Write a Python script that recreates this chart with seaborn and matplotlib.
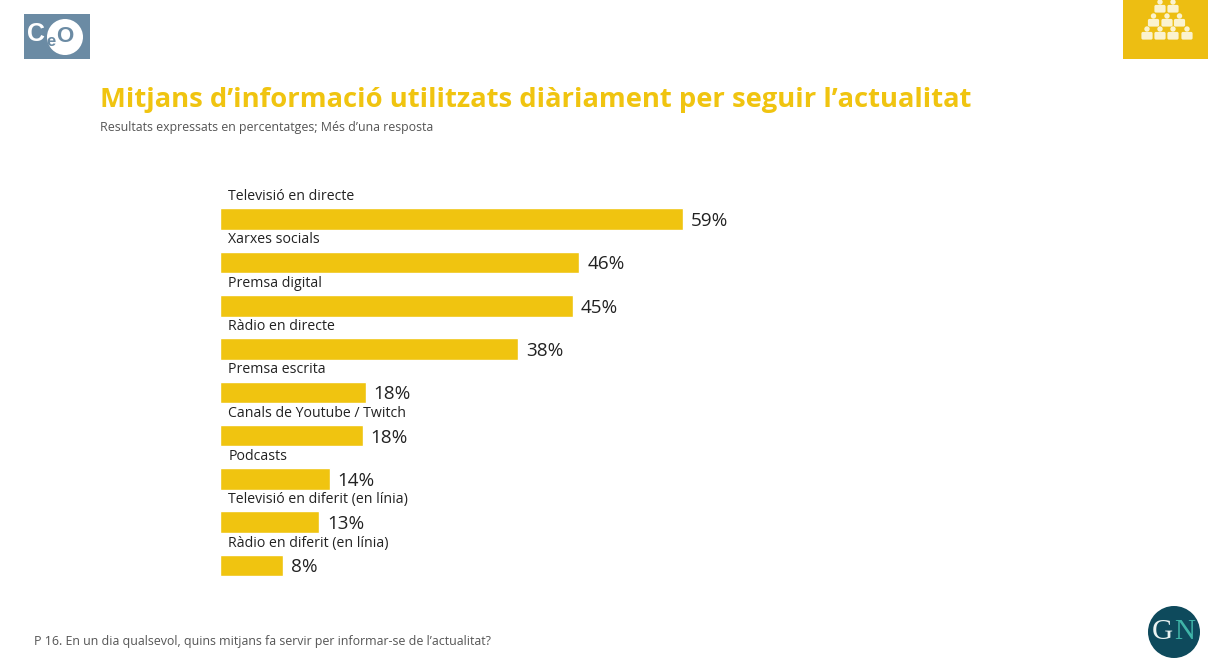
import matplotlib
matplotlib.use("Agg")
import matplotlib.pyplot as plt
from matplotlib.patches import Rectangle, Circle, FancyBboxPatch
import pandas as pd
import seaborn as sns

categories = ["Televisió en directe", "Xarxes socials", "Premsa digital", "Ràdio en directe",
              "Premsa escrita", "Canals de Youtube / Twitch", "Podcasts",
              "Televisió en diferit (en línia)", "Ràdio en diferit (en línia)"]
values = [59.1, 45.9, 45.1, 38.1, 18.6, 18.2, 14.0, 12.7, 8.1]
value_labels = ["59%", "46%", "45%", "38%", "18%", "18%", "14%", "13%", "8%"]

title = "Mitjans d’informació utilitzats diàriament per seguir l’actualitat"
subtitle = "Resultats expressats en percentatges; Més d’una resposta"
footnote = "P 16. En un dia qualsevol, quins mitjans fa servir per informar-se de l’actualitat?"

YELLOW = "#F0C410"
SLATE = "#6B8BA4"
W, H = 1208, 663

sns.set_theme(style="white")
plt.rcParams["font.family"] = ["Open Sans", "DejaVu Sans"]

fig = plt.figure(figsize=(W / 100, H / 100), dpi=100, facecolor="white")

# bar axes, placed in pixels: 7.8 px per percent point, 43.3 px per row
ax = fig.add_axes([220 / W, 1 - 587.2 / H, 783 / W, 389.7 / H])
df = pd.DataFrame({"mitja": categories, "valor": values})
sns.barplot(data=df, x="valor", y="mitja", color=YELLOW, saturation=1, width=0.5, ax=ax)
ax.set_xlim(0, 100)
ax.set_xlabel("")
ax.set_ylabel("")
ax.set_xticks([])
ax.set_yticks([])
sns.despine(ax=ax, left=True, bottom=True)
ax.patch.set_alpha(0)

# value labels sit a bit below the bar centre
for t in ax.bar_label(ax.containers[0], labels=value_labels, padding=5.6, fontsize=13.6, color="#222222"):
    t.xyann = (t.xyann[0], -1.4)
for i, name in enumerate(categories):
    ax.annotate(name, (0, i), xytext=(6, 16.2), textcoords="offset points",
                ha="left", va="center", fontsize=10.2, color="#222222")

# overlay in pixel coordinates for slide text and logos
bg = fig.add_axes([0, 0, 1, 1], zorder=-1)
bg.set_xlim(0, W)
bg.set_ylim(H, 0)
bg.axis("off")

bg.text(100, 100, title, fontsize=19.7, fontweight="bold", color=YELLOW, va="center", ha="left")
bg.text(100, 127, subtitle, fontsize=8.9, color="#555555", va="center", ha="left")
bg.text(34, 641, footnote, fontsize=8.88, color="#555555", va="center", ha="left")

# CEO logo
bg.add_patch(Rectangle((24, 14), 66, 45, color=SLATE, lw=0))
bg.add_patch(Circle((65, 37), 18, color="white", lw=0))
logo_font = "Liberation Sans"
bg.text(36, 34, "C", fontsize=18, fontweight="bold", color="white", ha="center", va="center", family=logo_font)
bg.text(51, 41, "e", fontsize=12, fontweight="bold", color=SLATE, ha="center", va="center", family=logo_font)
bg.text(65, 37, "O", fontsize=16, fontweight="bold", color=SLATE, ha="center", va="center", family=logo_font)

# yellow corner with the people pyramid
bg.add_patch(Rectangle((1123, 0), 85, 59, color="#EDBE12", lw=0))
for row_y, xs in [(2, [1160, 1173]), (16, [1153.5, 1167, 1179.5]), (29, [1147, 1160, 1173, 1187])]:
    for x in xs:
        bg.add_patch(Circle((x, row_y), 2.7, color="#FBF3CF", lw=0))
        bg.add_patch(FancyBboxPatch((x - 4, row_y + 4.5), 8, 4.5, boxstyle="round,pad=1.6",
                                    color="#FBF3CF", lw=0))

# GN badge
bg.add_patch(Circle((1174, 632), 26, color="#0E4A5C", lw=0))
bg.text(1162.5, 632, "G", fontsize=21, family="Liberation Serif", color="#EAF3F2", ha="center", va="center")
bg.text(1185, 632, "N", fontsize=21, family="Liberation Serif", color="#3FB5A8", ha="center", va="center")

fig.savefig("out.png", dpi=100)
